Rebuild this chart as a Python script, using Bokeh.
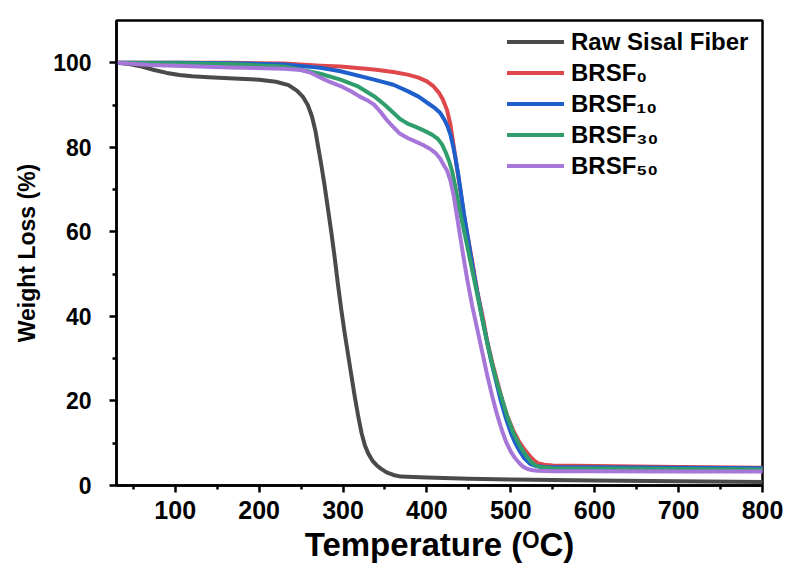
from bokeh.plotting import figure
from bokeh.models import Range1d, FixedTicker, Legend, LegendItem
from bokeh.embed import file_html
from bokeh.resources import INLINE

# ---------------- data ----------------
raw_T = [30, 45, 60, 75, 90, 105, 120, 140, 170, 200, 220, 235, 245, 252, 258, 263, 267, 270, 274, 278, 282, 286, 290, 294, 298, 302, 306, 310, 314, 318, 322, 326, 330, 335, 340, 345, 352, 360, 369, 400, 450, 500, 600, 700, 800]
raw_W = [100, 99.7, 99.1, 98.3, 97.6, 97.1, 96.8, 96.6, 96.3, 96.0, 95.5, 94.7, 93.4, 92.0, 90.0, 87.3, 84.0, 80.5, 76.0, 71.0, 65.5, 60.0, 54.0, 47.5, 41.5, 36.0, 31.0, 26.0, 21.0, 16.5, 12.5, 9.5, 7.6, 5.9, 4.8, 4.0, 3.1, 2.5, 2.1, 1.9, 1.6, 1.4, 1.2, 1.0, 0.8]

b0_T = [30, 100, 166, 230, 273, 297, 337, 360, 377, 390, 400, 408, 414, 419, 424, 428, 431, 434, 437, 440, 444, 449, 454, 460, 467, 472, 478, 484, 490, 496, 503, 510, 517, 523, 528, 533, 540, 550, 600, 700, 800]
b0_W = [100, 100, 100, 99.8, 99.3, 99.1, 98.4, 97.8, 97.2, 96.5, 95.6, 94.4, 93.0, 91.3, 88.8, 85.4, 81.5, 77.5, 73.5, 69.7, 64.0, 58.6, 53.0, 46.0, 39.4, 34.0, 29.0, 24.5, 20.1, 16.3, 13.0, 10.3, 8.3, 6.9, 5.9, 5.2, 4.9, 4.75, 4.6, 4.4, 4.2]

b10_T = [30, 100, 166, 230, 273, 297, 337, 360, 377, 390, 400, 410, 416, 421, 425, 428, 431, 434, 437, 440, 444, 448, 456, 466, 476, 482, 488, 494, 500, 505, 510, 516, 523, 530, 540, 600, 700, 800]
b10_W = [100, 100, 99.9, 99.6, 98.8, 98.0, 96.0, 94.8, 93.3, 92.0, 90.6, 89.2, 88.1, 86.5, 84.8, 83.0, 80.5, 77.5, 74.0, 70.0, 64.5, 59.5, 50.0, 39.4, 30.0, 25.0, 20.1, 16.0, 12.5, 10.2, 8.3, 6.5, 5.1, 4.6, 4.4, 4.3, 4.2, 4.1]

b30_T = [30, 100, 166, 230, 273, 297, 317, 337, 350, 360, 368, 377, 386, 396, 406, 413, 418, 422, 426, 430, 434, 438, 442, 446, 456, 466, 472, 478, 484, 490, 496, 502, 508, 514, 520, 525, 530, 535, 550, 600, 700, 800]
b30_W = [100, 99.9, 99.7, 99.1, 97.4, 96.0, 94.5, 92.1, 90.0, 88.2, 86.7, 85.6, 84.9, 84.0, 83.0, 82.0, 80.7, 79.0, 77.0, 74.4, 70.5, 66.3, 62.3, 58.6, 49.0, 39.4, 33.6, 28.5, 24.0, 20.1, 16.2, 13.0, 10.4, 8.3, 6.6, 5.4, 4.7, 4.35, 4.1, 4.0, 3.9, 3.8]

b50_T = [30, 70, 100, 166, 230, 250, 262, 273, 285, 297, 310, 320, 330, 337, 345, 352, 360, 368, 377, 386, 396, 404, 410, 416, 420, 424, 428, 432, 436, 440, 444, 448, 454, 460, 466, 472, 478, 484, 490, 495, 500, 505, 510, 515, 520, 526, 532, 550, 600, 700, 800]
b50_W = [100, 99.5, 99.3, 98.9, 98.6, 98.3, 97.6, 96.5, 95.4, 94.5, 93.2, 92.0, 91.0, 90.1, 88.3, 86.5, 84.8, 83.2, 82.2, 81.4, 80.5, 79.6, 78.7, 77.3, 75.8, 74.5, 72.2, 68.5, 63.5, 58.5, 53.5, 48.8, 42.5, 37.0, 31.5, 26.0, 21.0, 16.5, 12.7, 10.0, 8.0, 6.5, 5.3, 4.4, 3.9, 3.6, 3.5, 3.4, 3.35, 3.3, 3.3]

series_names = ["Raw Sisal Fiber", "BRSF\u2080", "BRSF\u2081\u2080", "BRSF\u2083\u2080", "BRSF\u2085\u2080"]
series_colors = ["#4a4a4a", "#e0474b", "#1f5fcc", "#2f9e6c", "#a676d8"]

x_ticks = [100, 200, 300, 400, 500, 600, 700, 800]
x_minor = [50, 150, 250, 350, 450, 550, 650, 750]
y_ticks = [0, 20, 40, 60, 80, 100]
y_minor = [10, 30, 50, 70, 90]

FONT = "Liberation Sans"

p = figure(width=785, height=572, output_backend="svg", toolbar_location=None,
           x_range=Range1d(30, 800), y_range=Range1d(0, 110),
           min_border_left=116, min_border_right=23, min_border_top=20, min_border_bottom=87)

p.xgrid.visible = False
p.ygrid.visible = False
p.outline_line_color = "black"
p.outline_line_width = 2.5
p.background_fill_color = "white"
p.border_fill_color = "white"

data = [(raw_T, raw_W), (b0_T, b0_W), (b10_T, b10_W), (b30_T, b30_W), (b50_T, b50_W)]
items = []
for (t, w), name, col in zip(data, series_names, series_colors):
    r = p.line(t, w, line_color=col, line_width=4, line_join="round", line_cap="round")
    items.append(LegendItem(label=name, renderers=[r]))

legend = Legend(items=items, location=(391, 304))
legend.border_line_color = None
legend.background_fill_alpha = 0
legend.label_text_font = FONT
legend.label_text_font_style = "bold"
legend.label_text_font_size = "24px"
legend.label_text_color = "black"
legend.glyph_width = 57
legend.glyph_height = 31
legend.label_height = 31
legend.spacing = 0
legend.label_standoff = 7
legend.margin = 0
legend.padding = 4
p.add_layout(legend)

for ax in (p.xaxis[0], p.yaxis[0]):
    ax.axis_line_width = 2.5
    ax.axis_line_color = "black"
    ax.major_tick_line_width = 2.5
    ax.minor_tick_line_width = 2.5
    ax.major_tick_out = 7
    ax.major_tick_in = 0
    ax.minor_tick_out = 4
    ax.minor_tick_in = 0
    ax.major_label_text_font = FONT
    ax.major_label_text_font_style = "bold"
    ax.major_label_text_color = "black"
    ax.axis_label_text_font = FONT
    ax.axis_label_text_font_style = "bold"
    ax.axis_label_text_color = "black"

p.xaxis.ticker = FixedTicker(ticks=x_ticks, minor_ticks=x_minor)
p.yaxis.ticker = FixedTicker(ticks=y_ticks, minor_ticks=y_minor)
p.xaxis.major_label_text_font_size = "25px"
p.yaxis.major_label_text_font_size = "23px"
p.xaxis.major_label_standoff = 8
p.yaxis.major_label_standoff = 18
p.xaxis.axis_label = "Temperature (\u1d3cC)"
p.yaxis.axis_label = "Weight Loss (%)"
p.xaxis.axis_label_text_font_size = "33px"
p.yaxis.axis_label_text_font_size = "23px"
p.xaxis.axis_label_standoff = 4
p.yaxis.axis_label_standoff = 10

open("out.html", "w").write(file_html(p, INLINE))
